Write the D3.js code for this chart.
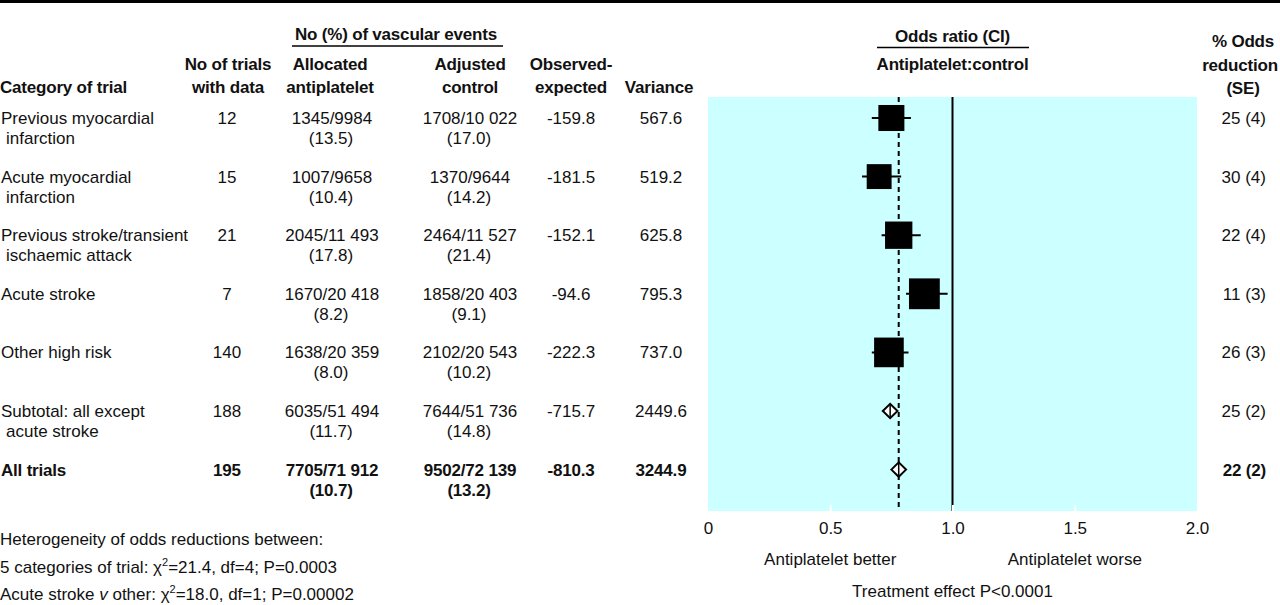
<!DOCTYPE html>
<html>
<head>
<meta charset="utf-8">
<script src="https://cdn.jsdelivr.net/npm/d3@7"></script>
<style>
  html, body { margin: 0; padding: 0; background: #fff; }
  svg { display: block; }
</style>
</head>
<body>
<svg id="chart" width="1280" height="605"></svg>
<script>
// ---------------- DATA ----------------
const categoryLine1 = ["Previous myocardial", "Acute myocardial", "Previous stroke/transient", "Acute stroke", "Other high risk", "Subtotal: all except", "All trials"];
const categoryLine2 = ["infarction", "infarction", "ischaemic attack", "", "", "acute stroke", ""];
const nTrials = ["12", "15", "21", "7", "140", "188", "195"];
const antiplateletEvents = ["1345/9984", "1007/9658", "2045/11 493", "1670/20 418", "1638/20 359", "6035/51 494", "7705/71 912"];
const antiplateletPct = ["(13.5)", "(10.4)", "(17.8)", "(8.2)", "(8.0)", "(11.7)", "(10.7)"];
const controlEvents = ["1708/10 022", "1370/9644", "2464/11 527", "1858/20 403", "2102/20 543", "7644/51 736", "9502/72 139"];
const controlPct = ["(17.0)", "(14.2)", "(21.4)", "(9.1)", "(10.2)", "(14.8)", "(13.2)"];
const observedExpected = ["-159.8", "-181.5", "-152.1", "-94.6", "-222.3", "-715.7", "-810.3"];
const variance = [567.6, 519.2, 625.8, 795.3, 737.0, 2449.6, 3244.9];
const oddsRatio = [0.75, 0.70, 0.78, 0.885, 0.74, 0.745, 0.78];
const ciLow = [0.67, 0.63, 0.71, 0.81, 0.67, 0.715, 0.75];
const ciHigh = [0.83, 0.79, 0.87, 0.98, 0.82, 0.775, 0.81];
const oddsReduction = ["25 (4)", "30 (4)", "22 (4)", "11 (3)", "26 (3)", "25 (2)", "22 (2)"];
const markerType = ["square", "square", "square", "square", "square", "diamond", "diamond"];
const boldRow = [false, false, false, false, false, false, true];
const overallOR = 0.78;
const axisTicks = [0, 0.5, 1.0, 1.5, 2.0];
const axisTickLabels = ["0", "0.5", "1.0", "1.5", "2.0"];

// ---------------- SETUP ----------------
const svg = d3.select("#chart");

// font detection: prefer a narrow sans
function measure(family, weight) {
  const t = svg.append("text").attr("x", -1000).attr("y", -1000)
    .style("font-family", family).style("font-size", "18px").style("font-weight", weight)
    .text("Previous myocardial infarction");
  const w = t.node().getComputedTextLength();
  t.remove();
  return w;
}
const wNarrow = measure("'Liberation Sans Narrow'", "normal");
const wWide = measure("'Liberation Sans'", "normal");
const hasNarrow = wNarrow < wWide * 0.9;
const FONT = hasNarrow ? "'Liberation Sans Narrow', 'Liberation Sans', Arial, sans-serif" : "'Liberation Sans', Arial, sans-serif";
const FS = hasNarrow ? 18 : 17;
const LS = hasNarrow ? 0.85 : 0;
const LSB = hasNarrow ? 0.5 : -0.2;

const ink = "#111";

function txt(g, x, y, s, anchor, bold) {
  return g.append("text")
    .attr("x", x).attr("y", y)
    .attr("text-anchor", anchor || "start")
    .style("font-family", FONT)
    .style("font-size", FS + "px")
    .style("font-weight", bold ? "bold" : "normal")
    .style("letter-spacing", (bold ? LSB : LS) + "px")
    .attr("fill", ink)
    .text(s);
}

// scales
const x = d3.scaleLinear().domain([0, 2]).range([708, 1197]);
const y = d3.scaleLinear().domain([0, 6]).range([118, 469.6]);
const side = d3.scaleSqrt().domain([0, 800]).range([0, 30.9]);
const plotTop = 97, plotBottom = 511;

// top rule
svg.append("rect").attr("x", 0).attr("y", 0).attr("width", 1280).attr("height", 3).attr("fill", "#000");

// ---------------- HEADERS ----------------
const hdr = svg.append("g");
txt(hdr, 396, 39.5, "No (%) of vascular events", "middle", true);
hdr.append("line").attr("x1", 292).attr("x2", 503).attr("y1", 46).attr("y2", 46).attr("stroke", "#000").attr("stroke-width", 1.5);
txt(hdr, 0, 93, "Category of trial", "start", true);
txt(hdr, 228, 70, "No of trials", "middle", true);
txt(hdr, 228, 93, "with data", "middle", true);
txt(hdr, 330, 70, "Allocated", "middle", true);
txt(hdr, 330, 93, "antiplatelet", "middle", true);
txt(hdr, 470, 70, "Adjusted", "middle", true);
txt(hdr, 470, 93, "control", "middle", true);
txt(hdr, 571, 70, "Observed-", "middle", true);
txt(hdr, 571, 93, "expected", "middle", true);
txt(hdr, 659, 93, "Variance", "middle", true);
txt(hdr, x(1), 41.5, "Odds ratio (CI)", "middle", true);
hdr.append("line").attr("x1", 877).attr("x2", 1029).attr("y1", 47.5).attr("y2", 47.5).attr("stroke", "#000").attr("stroke-width", 1.5);
txt(hdr, x(1), 70, "Antiplatelet:control", "middle", true);
txt(hdr, 1243, 46.5, "% Odds", "middle", true);
txt(hdr, 1240, 70.5, "reduction", "middle", true);
txt(hdr, 1243, 93.5, "(SE)", "middle", true);

// ---------------- PLOT PANEL ----------------
const panel = svg.append("g");
panel.append("rect")
  .attr("x", x(0)).attr("y", plotTop)
  .attr("width", x(2) - x(0)).attr("height", plotBottom - plotTop)
  .attr("fill", "#ccffff");

// axis
const axis = d3.axisBottom(x)
  .tickValues(axisTicks)
  .tickFormat((d, i) => axisTickLabels[i])
  .tickSize(-6)
  .tickPadding(11);
const axG = svg.append("g").attr("transform", `translate(0,${plotBottom})`).call(axis);
axG.select(".domain").remove();
axG.selectAll(".tick line")
  .attr("stroke", "#fff").attr("stroke-width", 2)
  .attr("opacity", d => (d > 0 && d < 2 ? 1 : 0));
axG.selectAll(".tick text")
  .attr("fill", ink)
  .style("font-family", FONT).style("font-size", FS + "px").style("letter-spacing", LS + "px");

// reference lines
panel.append("line")
  .attr("x1", x(1)).attr("x2", x(1)).attr("y1", plotTop).attr("y2", plotBottom)
  .attr("stroke", "#000").attr("stroke-width", 2);
panel.append("line")
  .attr("x1", x(overallOR)).attr("x2", x(overallOR)).attr("y1", plotTop).attr("y2", plotBottom)
  .attr("stroke", "#000").attr("stroke-width", 2).attr("stroke-dasharray", "5,4");

// marks
const idx = d3.range(categoryLine1.length);
const marks = svg.append("g");
idx.forEach(i => {
  const cy = y(i);
  if (markerType[i] === "square") {
    marks.append("line")
      .attr("x1", x(ciLow[i])).attr("x2", x(ciHigh[i])).attr("y1", cy).attr("y2", cy)
      .attr("stroke", "#000").attr("stroke-width", 2);
    const s = side(variance[i]);
    marks.append("rect")
      .attr("x", x(oddsRatio[i]) - s / 2).attr("y", cy - s / 2)
      .attr("width", s).attr("height", s).attr("fill", "#000");
  } else {
    const h = 7.2;
    const pts = [[x(ciLow[i]), cy], [x(oddsRatio[i]), cy - h], [x(ciHigh[i]), cy], [x(oddsRatio[i]), cy + h]];
    marks.append("path")
      .attr("d", d3.line()(pts) + "Z")
      .attr("fill", "#fff").attr("stroke", "#000").attr("stroke-width", 2).attr("stroke-linejoin", "miter");
    marks.append("line")
      .attr("x1", x(oddsRatio[i])).attr("x2", x(oddsRatio[i])).attr("y1", cy - h).attr("y2", cy + h)
      .attr("stroke", "#000").attr("stroke-width", 1.5);
  }
});

// ---------------- TABLE ROWS ----------------
const tbl = svg.append("g");
idx.forEach(i => {
  const b1 = y(i) + 6, b2 = b1 + 20;
  const bold = boldRow[i];
  txt(tbl, 1, b1, categoryLine1[i], "start", bold);
  if (categoryLine2[i]) txt(tbl, 6, b2, categoryLine2[i], "start", bold);
  txt(tbl, 227, b1, nTrials[i], "middle", bold);
  txt(tbl, 332, b1, antiplateletEvents[i], "middle", bold);
  txt(tbl, 331, b2, antiplateletPct[i], "middle", bold);
  txt(tbl, 470, b1, controlEvents[i], "middle", bold);
  txt(tbl, 469, b2, controlPct[i], "middle", bold);
  txt(tbl, 571, b1, observedExpected[i], "middle", bold);
  txt(tbl, 661, b1, d3.format(".1f")(variance[i]), "middle", bold);
  txt(tbl, 1266, b1, oddsReduction[i], "end", bold);
});

// ---------------- AXIS NOTES ----------------
txt(svg, x(0.5), 565, "Antiplatelet better", "middle", false);
txt(svg, x(1.5), 565, "Antiplatelet worse", "middle", false);
txt(svg, x(1), 597, "Treatment effect P<0.0001", "middle", false);

// ---------------- FOOTNOTES ----------------
txt(svg, 0, 545, "Heterogeneity of odds reductions between:", "start", false);
const f2 = txt(svg, 0, 573, "", "start", false);
f2.append("tspan").text("5 categories of trial: \u03c7");
f2.append("tspan").attr("dy", -7).style("font-size", "11px").text("2");
f2.append("tspan").attr("dy", 7).text("=21.4, df=4; P=0.0003");
const f3 = txt(svg, 0, 600, "", "start", false);
f3.append("tspan").text("Acute stroke ");
f3.append("tspan").style("font-style", "italic").text("v");
f3.append("tspan").text(" other: \u03c7");
f3.append("tspan").attr("dy", -7).style("font-size", "11px").text("2");
f3.append("tspan").attr("dy", 7).text("=18.0, df=1; P=0.00002");
</script>
</body>
</html>
